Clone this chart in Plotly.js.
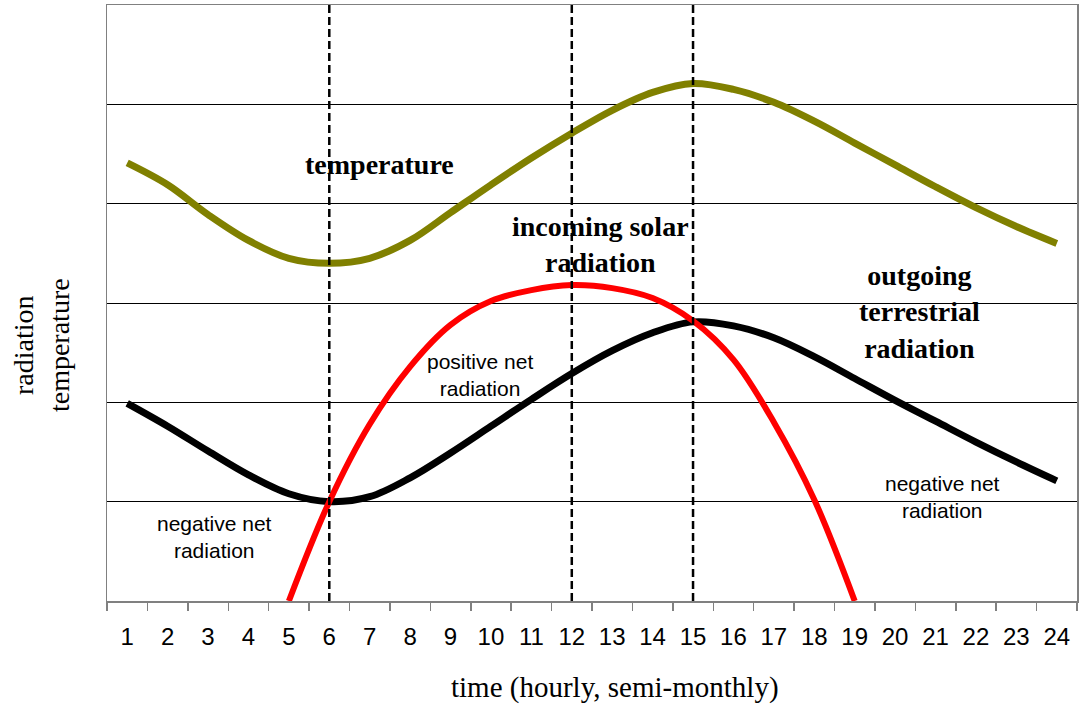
<!DOCTYPE html>
<html>
<head>
<meta charset="utf-8">
<script src="https://cdn.plot.ly/plotly-3.0.1.min.js"></script>
<style>html,body{margin:0;padding:0;background:#fff;}#chart{width:1081px;height:709px;}</style>
</head>
<body>
<div id="chart"></div>
<script>
// ---- data ----
var hours = [1,2,3,4,5,6,7,8,9,10,11,12,13,14,15,16,17,18,19,20,21,22,23,24];
var hourLabels = ["1","2","3","4","5","6","7","8","9","10","11","12","13","14","15","16","17","18","19","20","21","22","23","24"];
var temperature = [4.41,4.19,3.89,3.63,3.45,3.40,3.45,3.63,3.91,4.19,4.46,4.71,4.94,5.12,5.21,5.15,5.02,4.83,4.61,4.39,4.17,3.96,3.77,3.60];
var terrestrial = [1.99,1.76,1.51,1.27,1.08,1.00,1.05,1.24,1.49,1.76,2.03,2.29,2.52,2.70,2.81,2.77,2.65,2.46,2.24,2.02,1.81,1.60,1.40,1.21];
var solarHours = [5,6,7,8,9,10,11,12,13,14,15,16,17,18,19];
var solar = [0.00,1.00,1.78,2.36,2.78,3.02,3.13,3.18,3.15,3.05,2.82,2.43,1.80,1.02,0.00];
var markerHours = [6,12,15];
var yGrid = [1,2,3,4,5];

var boundaries = [];
for (var i = 0; i <= hours.length; i++) boundaries.push(hours[0] - 0.5 + i);

var traces = [
  {x: hours, y: temperature, type: 'scatter', mode: 'lines', line: {color: '#808000', width: 7, shape: 'spline', smoothing: 1}, hoverinfo: 'skip'},
  {x: hours, y: terrestrial, type: 'scatter', mode: 'lines', line: {color: '#000000', width: 7, shape: 'spline', smoothing: 1}, hoverinfo: 'skip'},
  {x: solarHours, y: solar, type: 'scatter', mode: 'lines', line: {color: '#ff0000', width: 6, shape: 'spline', smoothing: 1}, hoverinfo: 'skip'}
];

var shapes = markerHours.map(function (h) {
  return {type: 'line', xref: 'x', yref: 'paper', x0: h, x1: h, y0: 0, y1: 1,
          line: {color: '#000', width: 2.5, dash: '8px,4px'}, layer: 'above'};
});

var bold = {family: 'Liberation Serif, Times New Roman, serif', size: 28, color: '#000'};
var small = {family: 'Liberation Sans, Arial, sans-serif', size: 21, color: '#000'};
var serif = {family: 'Liberation Serif, Times New Roman, serif', size: 29, color: '#000'};
var serifY = {family: 'Liberation Serif, Times New Roman, serif', size: 28, color: '#000'};

var annotations = [
  {x: 7.25, y: 4.39, text: '<b>temperature</b>', font: bold},
  {x: 12.7, y: 3.59, text: '<b>incoming solar<br>radiation</b>', font: bold},
  {x: 20.6, y: 2.91, text: '<b>outgoing<br>terrestrial<br>radiation</b>', font: bold},
  {x: 9.73, y: 2.28, text: 'positive net<br>radiation', font: small},
  {x: 3.17, y: 0.64, text: 'negative net<br>radiation', font: small},
  {x: 21.16, y: 1.05, text: 'negative net<br>radiation', font: small},
  {xref: 'paper', yref: 'paper', x: 0.5237, y: -0.1443, text: 'time (hourly, semi-monthly)', font: serif},
  {xref: 'paper', yref: 'paper', x: -0.068, y: 0.4295, text: 'radiation<br>temperature', textangle: -90, font: serifY}
].map(function (a) {
  return Object.assign({xref: 'x', yref: 'y', showarrow: false, xanchor: 'center', yanchor: 'middle'}, a);
});

var layout = {
  width: 1081, height: 709,
  margin: {l: 107, r: 4, t: 5, b: 108, pad: 0},
  paper_bgcolor: '#fff', plot_bgcolor: '#fff',
  showlegend: false,
  xaxis: {
    range: [0.5, 24.5], tickmode: 'array', tickvals: hours, ticktext: hourLabels,
    ticks: '', showgrid: false, zeroline: false,
    showline: true, linecolor: '#808080', linewidth: 1.5, mirror: true,
    minor: {tickmode: 'array', tickvals: boundaries, ticks: 'outside', ticklen: 8, tickcolor: '#808080', tickwidth: 1.5, showgrid: false},
    tickfont: {family: 'Liberation Sans, Arial, sans-serif', size: 24, color: '#000'},
    ticklabelstandoff: 14, fixedrange: true
  },
  yaxis: {
    range: [0, 6], tickmode: 'array', tickvals: yGrid, showticklabels: false, ticks: '',
    showgrid: true, gridcolor: '#000', gridwidth: 1, zeroline: false,
    showline: true, linecolor: '#808080', linewidth: 1.5, mirror: true, fixedrange: true
  },
  shapes: shapes,
  annotations: annotations
};

Plotly.newPlot('chart', traces, layout, {displayModeBar: false, staticPlot: true});
</script>
</body>
</html>
